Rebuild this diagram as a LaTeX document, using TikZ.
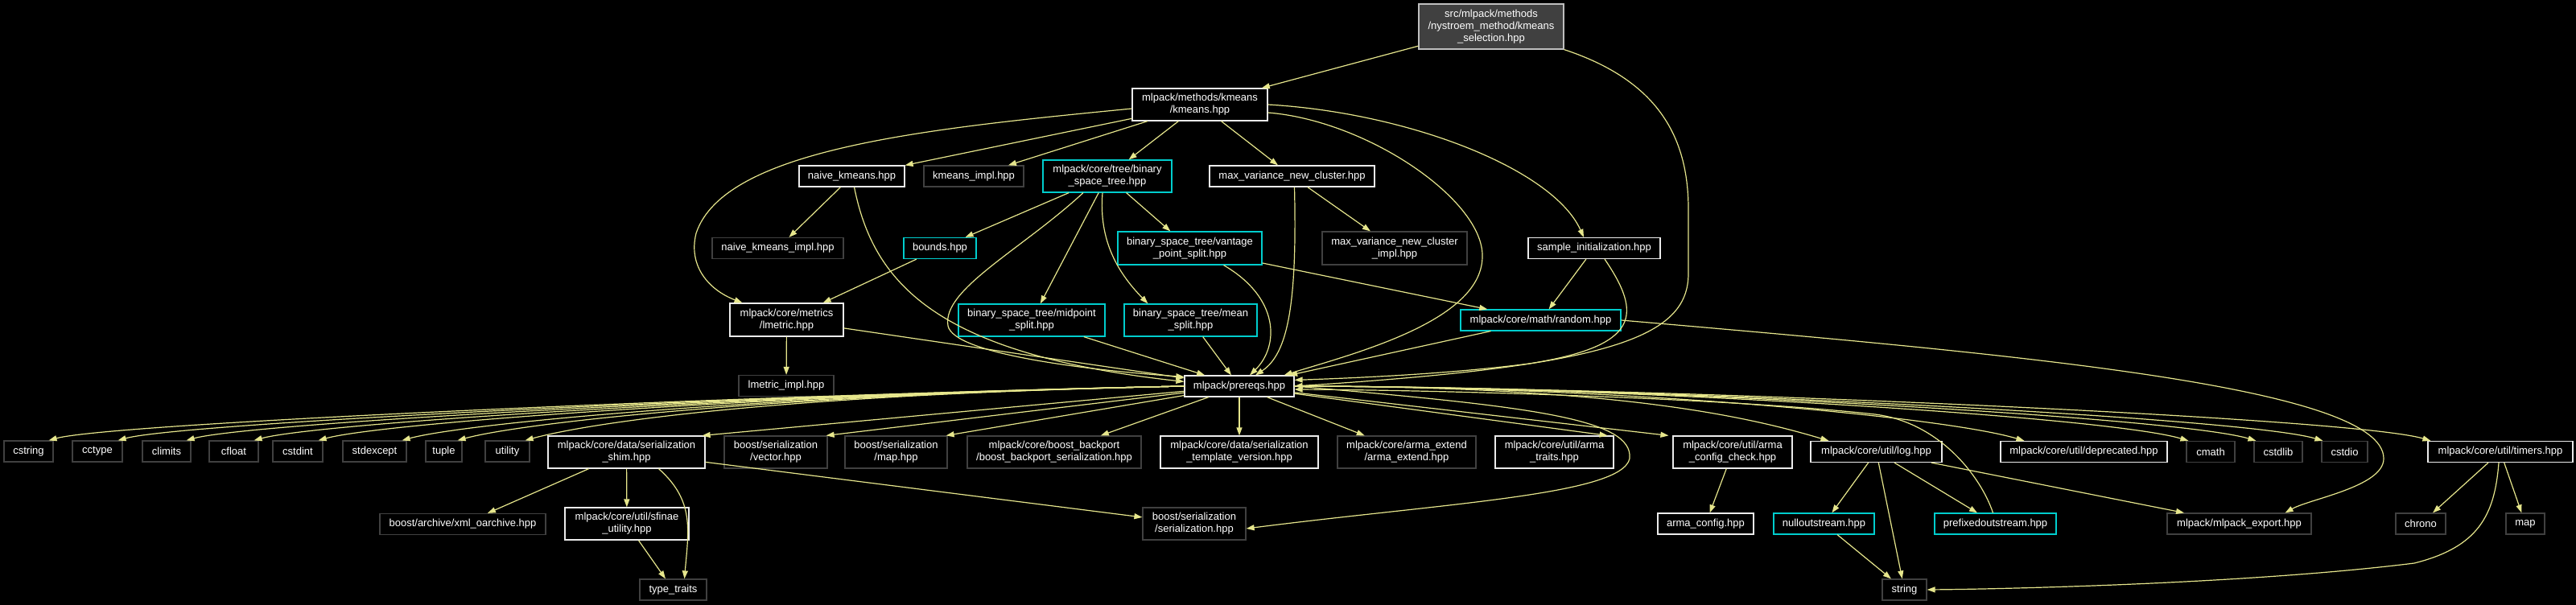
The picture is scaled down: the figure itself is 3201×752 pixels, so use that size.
\documentclass[tikz,border=0pt]{standalone}
\usepackage{fontspec}
\setmainfont{Liberation Sans}
\usetikzlibrary{arrows.meta}

\definecolor{edgeyel}{RGB}{230,230,140}
\definecolor{filegray}{RGB}{235,235,235}
\definecolor{sysgray}{RGB}{64,64,64}
\definecolor{treecyan}{RGB}{0,205,205}
\definecolor{topfill}{RGB}{64,64,64}
\definecolor{topgray}{RGB}{191,191,191}

\begin{document}
\begin{tikzpicture}[x=1pt,y=-1pt,
  >={Triangle[length=10pt,width=7pt]},
  box/.style={draw,fill=black,text=white,line width=1.2pt,inner sep=2pt,
    align=center,minimum height=26,font=\fontsize{13}{15}\selectfont},
  file/.style={box,draw=filegray},
  sys/.style={box,draw=sysgray},
  tree/.style={box,draw=treecyan},
  inc/.style={->,draw=edgeyel,line width=1.2pt}]
  % 背景
  \fill [black] (0,0) rectangle (3201,752);
  \useasboundingbox (0,0) rectangle (3201,752);
  % 顶层文件
  \node [box,draw=topgray,fill=topfill,minimum width=180,minimum height=56] (sel) at (1853,33) {src/mlpack/methods\\/nystroem\_method/kmeans\\\_selection.hpp};
  \node [file,minimum width=168,minimum height=40] (kmeans) at (1491,130) {mlpack/methods/kmeans\\/kmeans.hpp};
  % 第二层
  \node [file,minimum width=131] (naive) at (1058.5,219) {naive\_kmeans.hpp};
  \node [sys,minimum width=124] (kimpl) at (1210,219) {kmeans\_impl.hpp};
  \node [tree,minimum width=160,minimum height=40] (bst) at (1376,219) {mlpack/core/tree/binary\\\_space\_tree.hpp};
  \node [file,minimum width=205] (maxvar) at (1605.5,219) {max\_variance\_new\_cluster.hpp};
  % 第三层
  \node [sys,minimum width=163] (naiveimpl) at (966.5,308.5) {naive\_kmeans\_impl.hpp};
  \node [tree,minimum width=90] (bounds) at (1168,308.5) {bounds.hpp};
  \node [tree,minimum width=179,minimum height=41] (vantage) at (1478.5,308.5) {binary\_space\_tree/vantage\\\_point\_split.hpp};
  \node [sys,minimum width=180,minimum height=41] (maxvarimpl) at (1733,308.5) {max\_variance\_new\_cluster\\\_impl.hpp};
  \node [file,minimum width=164] (sample) at (1981,308.5) {sample\_initialization.hpp};
  % 第四层
  \node [file,minimum width=141,minimum height=41] (lmetric) at (977.5,397.5) {mlpack/core/metrics\\/lmetric.hpp};
  \node [tree,minimum width=182,minimum height=40] (midpoint) at (1282,398) {binary\_space\_tree/midpoint\\\_split.hpp};
  \node [tree,minimum width=165,minimum height=40] (meansplit) at (1479.5,398) {binary\_space\_tree/mean\\\_split.hpp};
  \node [tree,minimum width=199] (random) at (1914.5,398) {mlpack/core/math/random.hpp};
  % 第五层
  \node [sys,minimum width=118] (lmetricimpl) at (977,479.5) {lmetric\_impl.hpp};
  \node [file,minimum width=136] (prereqs) at (1540,480) {mlpack/prereqs.hpp};
  % 第六层
  \node [sys,minimum width=61] (cstring) at (35.5,561) {cstring};
  \node [sys,minimum width=62] (cctype) at (121,561) {cctype};
  \node [sys,minimum width=60] (climits) at (207,561) {climits};
  \node [sys,minimum width=61] (cfloat) at (290.5,561) {cfloat};
  \node [sys,minimum width=62] (cstdint) at (370,561) {cstdint};
  \node [sys,minimum width=79] (stdexcept) at (465.5,561) {stdexcept};
  \node [sys,minimum width=45] (tuple) at (551.5,561) {tuple};
  \node [sys,minimum width=55] (utility) at (630.5,561) {utility};
  \node [file,minimum width=195,minimum height=40] (shim) at (778.5,562) {mlpack/core/data/serialization\\\_shim.hpp};
  \node [sys,minimum width=128,minimum height=40] (bvector) at (964,562) {boost/serialization\\/vector.hpp};
  \node [sys,minimum width=127,minimum height=40] (bmap) at (1113.5,562) {boost/serialization\\/map.hpp};
  \node [sys,minimum width=216,minimum height=40] (backport) at (1310,562) {mlpack/core/boost\_backport\\/boost\_backport\_serialization.hpp};
  \node [file,minimum width=196,minimum height=40] (tplver) at (1540,562) {mlpack/core/data/serialization\\\_template\_version.hpp};
  \node [sys,minimum width=172,minimum height=40] (armaext) at (1748,562) {mlpack/core/arma\_extend\\/arma\_extend.hpp};
  \node [file,minimum width=147,minimum height=40] (armatraits) at (1931.5,562) {mlpack/core/util/arma\\\_traits.hpp};
  \node [file,minimum width=148,minimum height=40] (cfgchk) at (2153,562) {mlpack/core/util/arma\\\_config\_check.hpp};
  \node [file,minimum width=163] (log) at (2331.5,561.5) {mlpack/core/util/log.hpp};
  \node [file,minimum width=207] (deprec) at (2589.5,561.5) {mlpack/core/util/deprecated.hpp};
  \node [sys,minimum width=60] (cmath) at (2747,561.5) {cmath};
  \node [sys,minimum width=60] (cstdlib) at (2831,561.5) {cstdlib};
  \node [sys,minimum width=57] (cstdio) at (2913.5,561.5) {cstdio};
  \node [file,minimum width=180] (timers) at (3107,561.5) {mlpack/core/util/timers.hpp};
  % 第七层
  \node [sys,minimum width=206] (xmlarch) at (575,651.5) {boost/archive/xml\_oarchive.hpp};
  \node [file,minimum width=154,minimum height=40] (sfinae) at (779,651) {mlpack/core/util/sfinae\\\_utility.hpp};
  \node [sys,minimum width=128,minimum height=40] (bser) at (1484,651) {boost/serialization\\/serialization.hpp};
  \node [file,minimum width=119] (armacfg) at (2119.5,651) {arma\_config.hpp};
  \node [tree,minimum width=125] (nullos) at (2266.5,651) {nulloutstream.hpp};
  \node [tree,minimum width=151] (prefos) at (2479.5,651) {prefixedoutstream.hpp};
  \node [sys,minimum width=179] (export) at (2782.5,651) {mlpack/mlpack\_export.hpp};
  \node [sys,minimum width=62] (chrono) at (3008,651) {chrono};
  \node [sys,minimum width=48] (map) at (3138,651) {map};
  % 第八层
  \node [sys,minimum width=83] (typetraits) at (836.5,733) {type\_traits};
  \node [sys,minimum width=55] (string) at (2366.5,733) {string};

  % 上部连线
  \draw [inc] (sel) -- (kmeans);
  \draw [inc] (sel.south east) .. controls (2060,100) and (2098,170) .. (2098,260) -- (2098,340) .. controls (2098,420) and (2000,455) .. (prereqs.east);
  \draw [inc] (kmeans) -- (naive);
  \draw [inc] (kmeans) -- (kimpl);
  \draw [inc] (kmeans) -- (bst);
  \draw [inc] (kmeans) -- (maxvar);
  \draw [inc] ([yshift=-5pt]kmeans.west) .. controls (1150,160) and (900,185) .. (865,290) .. controls (855,330) and (880,360) .. ([xshift=-55pt]lmetric.north);
  \draw [inc] ([yshift=-10pt]kmeans.east) .. controls (1700,150) and (1845,250) .. (1842,320) .. controls (1840,400) and (1680,440) .. ([xshift=-13pt]prereqs.north east);
  \draw [inc] (kmeans.east) .. controls (1750,140) and (1930,210) .. ([xshift=-13pt]sample.north);
  \draw [inc] (naive) -- (naiveimpl);
  \draw [inc] ([xshift=3pt]naive.south) .. controls (1085,350) and (1160,440) .. ([yshift=-8pt]prereqs.north west);
  \draw [inc] (bst) -- (bounds);
  \draw [inc] (bst) -- (midpoint);
  \draw [inc] (bst) -- (vantage);
  \draw [inc] ([xshift=-6pt]bst.south) .. controls (1365,300) and (1390,340) .. ([xshift=30pt]meansplit.north west);
  \draw [inc] ([xshift=-30pt]bst.south) .. controls (1270,310) and (1170,360) .. (1178,405) .. controls (1185,440) and (1350,460) .. ([yshift=-2pt]prereqs.north west);
  \draw [inc] (maxvar) -- (maxvarimpl);
  \draw [inc] ([xshift=3pt]maxvar.south) .. controls (1612,380) and (1600,440) .. ([xshift=20pt]prereqs.north);
  \draw [inc] (bounds) -- (lmetric);
  \draw [inc] (vantage) -- (random);
  \draw [inc] ([xshift=42pt]vantage.south) .. controls (1590,370) and (1590,430) .. ([xshift=13pt]prereqs.north);
  \draw [inc] (sample) -- (random);
  \draw [inc] ([xshift=13pt]sample.south) .. controls (2040,390) and (2040,430) .. (1900,452) .. controls (1800,465) and (1680,470) .. ([yshift=-6pt]prereqs.north east);
  \draw [inc] (lmetric) -- (lmetricimpl);
  \draw [inc] (lmetric) -- (prereqs);
  \draw [inc] (midpoint) -- (prereqs);
  \draw [inc] (meansplit) -- (prereqs);
  \draw [inc] (random) -- (prereqs);
  \draw [inc] (random.east) .. controls (2500,440) and (2962,480) .. (2962,570) .. controls (2962,605) and (2870,620) .. ([xshift=-33pt]export.north east);

  % prereqs 的连线
  \foreach \h in {cstring,cctype,climits,cfloat,cstdint,stdexcept,tuple,utility}
    \draw [inc] (prereqs.west) .. controls +(-500,10) and +(80,-22) .. ([xshift=-6pt]\h.north east);
  \draw [inc] (prereqs) -- ([xshift=-4pt]shim.north east);
  \draw [inc] (prereqs) -- ([xshift=-2pt]bvector.north east);
  \draw [inc] (prereqs) -- ([xshift=-2pt]bmap.north east);
  \draw [inc] (prereqs) -- (backport);
  \draw [inc] (prereqs) -- (tplver);
  \draw [inc] (prereqs) -- (armaext);
  \draw [inc] (prereqs) -- ([xshift=-8pt]armatraits.north east);
  \draw [inc] (prereqs) -- ([xshift=-5pt]cfgchk.north west);
  \foreach \h/\dx in {log/23,deprec/30,cmath/3,cstdlib/3,cstdio/2,timers/4}
    \draw [inc] (prereqs.east) .. controls +(400,0) and +(-100,-30) .. ([xshift=\dx pt]\h.north west);
  \draw [inc] (prereqs.east) .. controls (1900,505) and (2030,520) .. (2025,570) .. controls (2015,615) and (1800,625) .. ([yshift=-6pt]bser.east);

  % 下部连线
  \draw [inc] (shim) -- (xmlarch);
  \draw [inc] (shim) -- (sfinae);
  \draw [inc] ([xshift=40pt]shim.south) .. controls +(45,40) and +(5,-60) .. ([xshift=14pt]typetraits.north);
  \draw [inc] (shim) -- (bser);
  \draw [inc] (sfinae) -- (typetraits);
  \draw [inc] (cfgchk) -- (armacfg);
  \draw [inc] (log) -- (nullos);
  \draw [inc] (log) -- (string);
  \draw [inc] (log) -- (prefos);
  \draw [inc] (log) -- (export);
  \draw [inc] (nullos) -- (string);
  \draw [inc] ([xshift=-3pt]prefos.north) .. controls +(-15,-45) and +(80,10) .. (2330,515) .. controls (2150,495) and (1800,485) .. ([yshift=-4pt]prereqs.east);
  \draw [inc] (timers) -- (chrono);
  \draw [inc] (timers) -- (map);
  \draw [inc] ([xshift=-2pt]timers.south) .. controls (3100,640) and (3080,680) .. (3000,700) .. controls (2800,725) and (2500,732) .. (string.east);
\end{tikzpicture}
\end{document}
